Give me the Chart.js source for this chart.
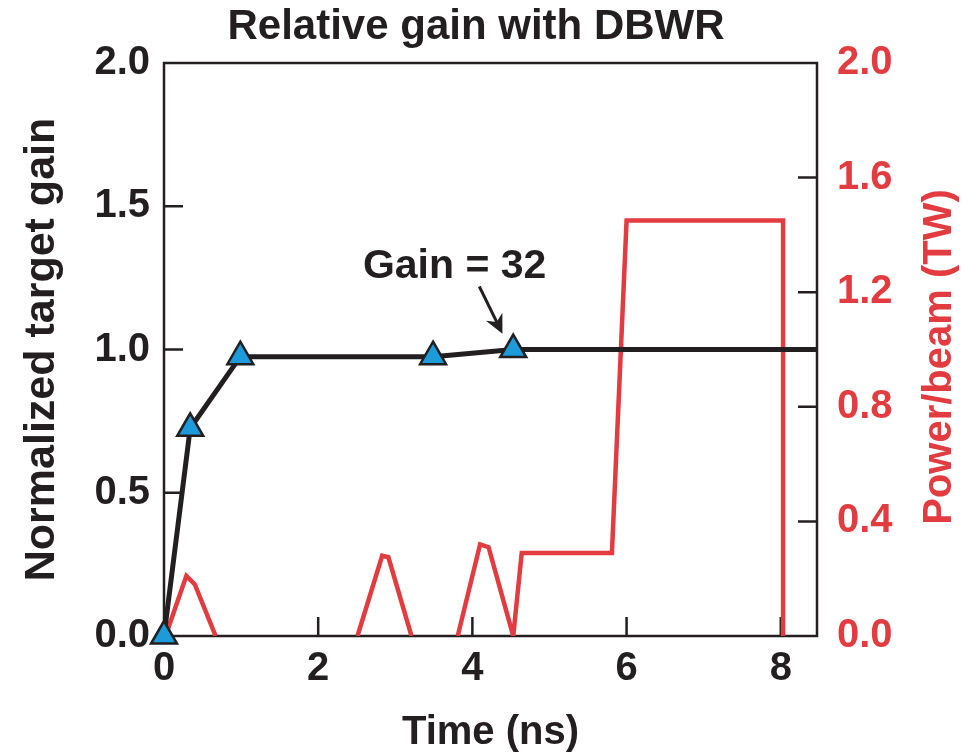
<!DOCTYPE html>
<html>
<head>
<meta charset="utf-8">
<title>Relative gain with DBWR</title>
<script src="https://cdn.jsdelivr.net/npm/chart.js@4.4.1/dist/chart.umd.min.js"></script>
<style>
  body { margin: 0; background: #fff; }
  canvas { display: block; }
</style>
</head>
<body>
<canvas id="myChart" width="970" height="756"></canvas>
<script>
// gain points (left axis), last point only carries the line to the edge
const gainTime = [0, 0.34, 0.99, 3.49, 4.53, 8.47];
const gainValue = [0, 0.725, 0.975, 0.975, 1.0, 1.0];
const gainMarker = [15, 15, 15, 15, 15, 0];

// laser power per beam (right axis), null = gap in the pulse shape
const powerTime = [0.02, 0.29, 0.40, 0.67, 0.67, 2.51, 2.83, 2.91, 3.21, 3.21, 3.81, 4.10, 4.21, 4.53, 4.64, 5.81, 6.0, 8.03, 8.03];
const powerValue = [0, 0.21, 0.18, 0, null, 0, 0.28, 0.275, 0, null, 0, 0.32, 0.31, 0, 0.29, 0.29, 1.45, 1.45, 0];

const xTicks = [2, 4, 6, 8];
const leftTicks = [0.5, 1.0, 1.5];
const rightTicks = [0.4, 0.8, 1.2, 1.6];

const chartTitle = 'Relative gain with DBWR';
const xTitle = 'Time (ns)';
const leftTitle = 'Normalized target gain';
const rightTitle = 'Power/beam (TW)';
const note = 'Gain = 32';

const BLACK = '#231f20';
const RED = '#e23b40';
const BLUE = '#1c9bd8';
const FONT = '"Liberation Sans", Arial, Helvetica, sans-serif';

function pairs(xs, ys) {
  return xs.map((x, i) => ({ x: x, y: ys[i] }));
}

// frame + inward ticks, drawn under the lines
const frame = {
  id: 'frame',
  beforeDatasetsDraw(chart) {
    const ctx = chart.ctx;
    const a = chart.chartArea;
    const x = chart.scales.x;
    const y = chart.scales.y;
    const y2 = chart.scales.y2;
    ctx.save();
    ctx.strokeStyle = BLACK;
    ctx.lineWidth = 2.5;
    ctx.strokeRect(a.left, a.top, a.right - a.left, a.bottom - a.top);
    ctx.beginPath();
    xTicks.forEach(v => {
      const px = x.getPixelForValue(v);
      ctx.moveTo(px, a.bottom);
      ctx.lineTo(px, a.bottom - 19);
    });
    leftTicks.forEach(v => {
      const py = y.getPixelForValue(v);
      ctx.moveTo(a.left, py);
      ctx.lineTo(a.left + 19, py);
    });
    rightTicks.forEach(v => {
      const py = y2.getPixelForValue(v);
      ctx.moveTo(a.right, py);
      ctx.lineTo(a.right - 19, py);
    });
    ctx.stroke();
    ctx.restore();
  }
};

// titles and the gain note
const labels = {
  id: 'labels',
  afterDraw(chart) {
    const ctx = chart.ctx;
    const a = chart.chartArea;
    const x = chart.scales.x;
    const y = chart.scales.y;
    ctx.save();
    ctx.textAlign = 'center';
    ctx.textBaseline = 'middle';
    ctx.fillStyle = BLACK;

    ctx.font = 'bold 42px ' + FONT;
    ctx.fillText(chartTitle, 476, 27);
    ctx.font = 'bold 40px ' + FONT;
    ctx.fillText(xTitle, (a.left + a.right) / 2, 733);

    ctx.save();
    ctx.translate(42, (a.top + a.bottom) / 2);
    ctx.rotate(-Math.PI / 2);
    ctx.font = 'bold 43px ' + FONT;
    ctx.fillText(leftTitle, 0, 0);
    ctx.restore();

    ctx.save();
    ctx.translate(940, 357);
    ctx.rotate(-Math.PI / 2);
    ctx.fillStyle = RED;
    ctx.font = 'bold 40px ' + FONT;
    ctx.fillText(rightTitle, 0, 0);
    ctx.restore();

    // annotation and arrow
    ctx.font = 'bold 41px ' + FONT;
    ctx.fillText(note, x.getPixelForValue(3.77), y.getPixelForValue(1.29));
    const x0 = x.getPixelForValue(4.09), y0 = y.getPixelForValue(1.22);
    const x1 = x.getPixelForValue(4.39), y1 = y.getPixelForValue(1.055);
    const ang = Math.atan2(y1 - y0, x1 - x0);
    ctx.strokeStyle = BLACK;
    ctx.lineWidth = 3;
    ctx.beginPath();
    ctx.moveTo(x0, y0);
    ctx.lineTo(x1 - Math.cos(ang) * 12, y1 - Math.sin(ang) * 12);
    ctx.stroke();
    ctx.beginPath();
    ctx.moveTo(x1, y1);
    ctx.lineTo(x1 - Math.cos(ang - 0.45) * 21, y1 - Math.sin(ang - 0.45) * 21);
    ctx.lineTo(x1 - Math.cos(ang) * 13, y1 - Math.sin(ang) * 13);
    ctx.lineTo(x1 - Math.cos(ang + 0.45) * 21, y1 - Math.sin(ang + 0.45) * 21);
    ctx.closePath();
    ctx.fill();
    ctx.restore();
  }
};

const tickFont = { family: FONT, size: 40, weight: 'bold' };

const config = {
  type: 'line',
  data: {
    datasets: [
      {
        label: 'Gain',
        data: pairs(gainTime, gainValue),
        yAxisID: 'y',
        borderColor: BLACK,
        borderWidth: 5,
        pointStyle: 'triangle',
        pointRadius: gainMarker,
        pointBackgroundColor: BLUE,
        pointBorderColor: BLACK,
        pointBorderWidth: 2.5,
        tension: 0,
        clip: false,
      },
      {
        label: 'Power',
        data: pairs(powerTime, powerValue),
        yAxisID: 'y2',
        borderColor: RED,
        borderWidth: 4.5,
        pointRadius: 0,
        tension: 0,
        spanGaps: false,
      },
    ],
  },
  options: {
    responsive: false,
    animation: false,
    events: [],
    layout: { padding: { top: 63 } },
    plugins: {
      legend: { display: false },
      title: { display: false },
      tooltip: { enabled: false },
    },
    scales: {
      x: {
        type: 'linear',
        min: 0,
        max: 8.47,
        grid: { display: false, drawTicks: false },
        border: { display: false },
        ticks: { stepSize: 2, includeBounds: false, font: tickFont, color: BLACK, padding: 9 },
        afterFit: s => { s.height = 120; },
      },
      y: {
        position: 'left',
        min: 0,
        max: 2,
        grid: { display: false, drawTicks: false },
        border: { display: false },
        ticks: { stepSize: 0.5, font: tickFont, color: BLACK, padding: 14, callback: v => v.toFixed(1) },
        afterFit: s => { s.width = 164; },
      },
      y2: {
        position: 'right',
        min: 0,
        max: 2,
        grid: { display: false, drawTicks: false },
        border: { display: false },
        ticks: { stepSize: 0.4, font: tickFont, color: RED, padding: 20, callback: v => v.toFixed(1) },
        afterFit: s => { s.width = 153; },
      },
    },
  },
  plugins: [frame, labels],
};

var ctx = document.getElementById('myChart');
var myChart = new Chart(ctx, config);
</script>
</body>
</html>
